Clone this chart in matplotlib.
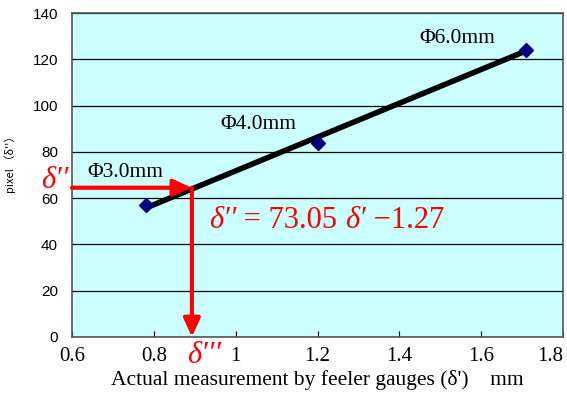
import matplotlib
matplotlib.use('Agg')
import matplotlib.pyplot as plt

# measured points
x_meas = [0.78, 1.20, 1.71]
y_pix = [57, 84, 124]
point_labels = ['Φ3.0mm', 'Φ4.0mm', 'Φ6.0mm']
label_pos = [(0.638, 69), (0.962, 90), (1.45, 127)]

# linear fit  delta'' = a * delta' + b
fit_a = 73.05
fit_b = -1.27
fit_range = [0.78, 1.71]

# reading example (red arrows)
read_x = 0.893
read_y = 64.5

x_ticks = [0.6, 0.8, 1.0, 1.2, 1.4, 1.6, 1.8]
x_ticklabels = ['0.6', '0.8', '1', '1.2', '1.4', '1.6', '1.8']
y_ticks = [0, 20, 40, 60, 80, 100, 120, 140]

serif = 'Liberation Serif'
sans = 'Liberation Sans'


def chained_text(ax, x, y, parts, **kw):
    # parts: list of (string, style); each piece starts where the previous ended
    first = ax.text(x, y, parts[0][0], style=parts[0][1], ha='left',
                    va='bottom', **kw)
    prev = first
    for s, st in parts[1:]:
        prev = ax.annotate(s, xy=(1, 0), xycoords=prev, style=st,
                           ha='left', va='bottom', **kw)
    return first


fig = plt.figure(figsize=(5.67, 4.0), dpi=100)
ax = fig.add_axes([0.127, 0.1575, 0.866, 0.81])
ax.set_facecolor('#ccffff')

ax.set_xlim(0.6, 1.8)
ax.set_ylim(0, 140)
ax.set_yticks(y_ticks)
ax.set_xticks(x_ticks)
ax.set_xticklabels(x_ticklabels, family=serif, fontsize=15)
ax.get_xticklabels()[-1].set_horizontalalignment('right')
for t in ax.get_yticklabels():
    t.set_family(sans)
    t.set_fontsize(11)
ax.tick_params(axis='x', direction='in', length=4, pad=7)
ax.tick_params(axis='y', length=0, pad=10)
ax.grid(axis='y', color='black', lw=0.9)
ax.set_axisbelow(True)
for s in ax.spines.values():
    s.set_color('#555555')
    s.set_linewidth(1.2)

# fit line
fx = fit_range
fy = [fit_a * v + fit_b for v in fx]
ax.plot(fx, fy, color='black', lw=4, solid_capstyle='butt', zorder=3)
ax.plot(x_meas, y_pix, linestyle='none', marker='D', markersize=7,
        color='#000080', zorder=4)

for (lx, ly), txt in zip(label_pos, point_labels):
    ax.text(lx, ly, txt, family=serif, fontsize=15.5, va='baseline', ha='left')

# red reading arrows
ax.annotate('', xy=(read_x, read_y), xytext=(0.6, read_y),
            arrowprops=dict(arrowstyle='-|>,head_length=1.1,head_width=0.5',
                            color='red', lw=3, shrinkA=0, shrinkB=0),
            annotation_clip=False, zorder=5)
ax.annotate('', xy=(read_x, 0), xytext=(read_x, read_y),
            arrowprops=dict(arrowstyle='-|>,head_length=1.1,head_width=0.5',
                            color='red', lw=3, shrinkA=0, shrinkB=0),
            annotation_clip=False, zorder=5)

eq_parts = [('δ′′', 'italic'), (' = 73.05 ', 'normal'), ('δ′', 'italic'),
            (' \u22121.27', 'normal')]
chained_text(ax, 0.935, 44, eq_parts, color='red', family=serif, fontsize=22)

ax.text(0.558, 67.5, 'δ′′', style='italic', color='red', fontsize=22,
        va='center', ha='center', family=serif)
ax.text(read_x + 0.03, -8, 'δ′′′', style='italic', color='red', fontsize=22,
        va='center', ha='center', family=serif, clip_on=False)

ax.set_xlabel("Actual measurement by feeler gauges (δ')    mm",
              family=serif, fontsize=15.5, labelpad=3)
ax.set_ylabel("pixel （δ''）", family=['Noto Sans CJK JP', 'DejaVu Sans'],
              fontsize=8)
ax.yaxis.set_label_coords(-0.114, 0.54)

fig.savefig('out.png', dpi=100)
